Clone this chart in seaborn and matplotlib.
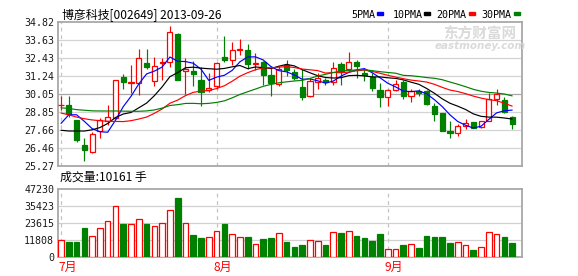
import numpy as np
import pandas as pd
import matplotlib
matplotlib.use("Agg")
import matplotlib.pyplot as plt
import seaborn as sns

# ---------------- data ----------------
open_ = [29.28, 29.34, 28.31, 26.67, 26.16, 27.61, 28.22, 28.45, 31.15, 30.80,
         30.78, 32.11, 30.92, 32.09, 32.16, 34.07, 31.58, 31.55, 31.01, 30.33,
         30.55, 32.52, 32.29, 32.98, 33.00, 32.06, 32.16, 31.29, 30.74, 31.97,
         31.51, 30.51, 29.89, 30.87, 31.01, 30.87, 32.02, 31.74, 32.16, 31.42,
         31.19, 30.33, 29.85, 30.33, 30.83, 29.93, 30.23, 30.23, 29.22, 28.78,
         27.61, 27.47, 27.94, 28.17, 27.84, 28.27, 29.70, 29.66, 28.50]
high = [29.93, 29.93, 28.33, 27.11, 27.52, 28.45, 29.34, 31.00, 31.35, 31.97,
        33.07, 33.02, 32.52, 32.43, 34.57, 34.10, 32.43, 32.27, 31.81, 31.47,
        32.16, 33.93, 33.51, 33.69, 33.37, 32.80, 32.27, 31.93, 31.93, 32.29,
        31.70, 31.70, 31.12, 31.47, 31.12, 32.20, 32.16, 32.83, 32.29, 31.70,
        31.47, 30.78, 30.35, 30.96, 31.01, 30.37, 30.37, 30.33, 29.46, 28.80,
        28.22, 28.03, 28.36, 28.20, 28.27, 30.09, 30.37, 29.82, 28.59]
low = [29.01, 28.53, 26.86, 25.61, 26.12, 27.10, 27.98, 28.35, 30.37, 30.14,
       29.96, 31.74, 30.55, 30.96, 31.81, 31.00, 30.05, 30.55, 29.26, 30.19,
       30.37, 32.20, 31.97, 32.62, 31.74, 31.65, 30.64, 29.89, 30.55, 31.24,
       31.01, 29.66, 29.85, 30.37, 30.64, 30.64, 30.64, 31.56, 31.10, 30.92,
       30.23, 29.18, 29.26, 30.23, 29.70, 29.50, 29.89, 29.34, 28.27, 27.56,
       27.14, 27.23, 27.70, 27.75, 27.80, 28.22, 29.34, 28.78, 27.70]
close = [29.32, 28.69, 27.00, 26.30, 27.38, 28.31, 28.50, 30.99, 30.83, 30.83,
         32.43, 31.83, 31.93, 32.18, 34.17, 31.01, 31.74, 31.37, 30.19, 30.44,
         32.11, 32.34, 33.00, 33.06, 32.06, 32.14, 31.29, 30.78, 31.74, 31.65,
         31.10, 29.85, 30.92, 31.10, 30.87, 31.79, 31.51, 32.16, 31.93, 31.29,
         30.42, 29.85, 30.33, 30.71, 29.89, 30.23, 30.10, 29.38, 28.73, 27.61,
         27.47, 27.89, 28.13, 27.80, 28.22, 29.74, 30.05, 28.83, 28.03]
volume = [11800, 10650, 10650, 20370, 14580, 20140, 25000, 35420, 23380, 23150,
          26390, 23380, 21530, 23840, 32640, 41200, 23840, 15500, 13430, 13890,
          18060, 23380, 15970, 13890, 14120, 9260, 12730, 13430, 16670, 10880,
          7180, 8570, 11810, 11340, 8570, 17590, 17130, 18060, 14820, 13430,
          11340, 16200, 5790, 5790, 8570, 9260, 6480, 14820, 14120, 14120,
          9950, 10650, 8330, 5090, 6950, 17590, 16200, 14120, 10161]
# closes of the 29 sessions before the window (estimated from the MA lines)
prior_close = [29.89, 29.40, 27.50, 28.58, 28.61, 28.50, 30.99, 31.13, 31.13, 32.43,
               31.09, 30.00, 28.50, 28.98, 29.31, 29.30, 31.19, 31.03, 29.63, 30.23,
               29.19, 27.00, 26.30, 26.58, 26.81, 25.80, 27.00, 28.50, 29.80]

price_ticks = [34.82, 33.63, 32.43, 31.24, 30.05, 28.85, 27.66, 26.46, 25.27]
vol_ticks = [0, 11808, 23615, 35423, 47230]
month_labels = ["7月", "8月", "9月"]
month_starts = [0, 20, 42]
ma_periods = [5, 10, 20, 30]
ma_names = ["5PMA", "10PMA", "20PMA", "30PMA"]
ma_colors = ["#0000ff", "#000000", "#ff0000", "#008000"]
title = "博彦科技[002649] 2013-09-26"
vol_title = "成交量:10161 手"

# ---------------- style ----------------
sns.set_style("white")
plt.rcParams["font.family"] = ["Noto Sans CJK SC", "DejaVu Sans"]

W, H = 578, 276
fig = plt.figure(figsize=(W / 100, H / 100), dpi=100)
fig.patch.set_facecolor("white")

def fx(px):
    return px / W

def fy(py):
    return 1 - py / H

L, R = 58.3, 522.3
ax = fig.add_axes([fx(L), fy(165.7), fx(R - L), (165.7 - 22.3) / H])
axv = fig.add_axes([fx(L), fy(257.3), fx(R - L), (257.3 - 189.3) / H])

n = len(close)
idx = np.arange(n)
o = np.array(open_); c = np.array(close); hi = np.array(high); lo = np.array(low)
up = c >= o
RED, GREEN = "#ff0000", "#008000"

# ---------------- candles ----------------
for i in range(n):
    col = RED if up[i] else GREEN
    ax.vlines(i, lo[i], hi[i], color=col, lw=0.85, zorder=2)
body_h = np.maximum(np.abs(c - o), 0.02)
body_b = np.minimum(o, c)
ax.bar(idx[up], body_h[up], bottom=body_b[up], width=0.66,
       facecolor="white", edgecolor=RED, linewidth=0.9, zorder=3)
ax.bar(idx[~up], body_h[~up], bottom=body_b[~up], width=0.66,
       facecolor=GREEN, edgecolor=GREEN, linewidth=0.9, zorder=3)

# ---------------- moving averages ----------------
full = pd.Series(prior_close + close)
for p, col in zip(ma_periods, ma_colors):
    ma = full.rolling(p).mean().iloc[len(prior_close):].to_numpy()
    sns.lineplot(x=idx, y=ma, ax=ax, color=col, lw=0.85, zorder=4)

# ---------------- volume ----------------
vdf = pd.DataFrame({"i": idx, "v": volume, "up": up})
sns.barplot(data=vdf[~vdf.up], x="i", y="v", native_scale=True, width=0.72,
            color=GREEN, saturation=1, edgecolor=GREEN, linewidth=0.9,
            errorbar=None, ax=axv, zorder=3)
sns.barplot(data=vdf[vdf.up], x="i", y="v", native_scale=True, width=0.72,
            color="white", saturation=1, edgecolor=RED, linewidth=0.9,
            errorbar=None, ax=axv, zorder=3)

# ---------------- axes styling ----------------
xlim = (-0.35, 59.3)
for a in (ax, axv):
    a.set_xlim(*xlim)
    a.set_xlabel(""); a.set_ylabel("")
    a.set_xticks([])
    for s in a.spines.values():
        s.set_color("#a8a8a8"); s.set_linewidth(1.3)
    for m in month_starts:
        a.axvline(m, color="#c4c4c4", lw=0.9, ls=(0, (3, 3)), zorder=1)
    a.tick_params(axis="y", length=0, pad=3, labelsize=7.2, labelcolor="#1a1a1a")

ax.set_ylim(price_ticks[-1], price_ticks[0])
ax.set_yticks(price_ticks)
ax.set_yticklabels([f"{t:.2f}" for t in price_ticks], family="DejaVu Sans Mono")
for t in price_ticks[1:-1]:
    ax.axhline(t, color="#a8a8a8" if t == 30.05 else "#d4d4d4", lw=0.9, zorder=1)

axv.set_ylim(0, vol_ticks[-1])
axv.set_yticks(vol_ticks)
axv.set_yticklabels([str(t) for t in vol_ticks], family="DejaVu Sans Mono")
for t in vol_ticks[1:-1]:
    axv.axhline(t, color="#d0d0d0", lw=0.9, zorder=1)

# ---------------- texts ----------------
fig.text(fx(62), fy(15), title, fontsize=8.6, va="center", ha="left", color="#000")
fig.text(fx(60), fy(177), vol_title, fontsize=8.6, va="center", ha="left", color="#000")

leg_x = [351.7, 392.3, 436.7, 481.7]
mk_x = [377, 424, 469, 514]
for name, lx, mx, col in zip(ma_names, leg_x, mk_x, ma_colors):
    fig.text(fx(lx), fy(14.5), name, fontsize=7.2, family="DejaVu Sans Mono",
             va="center", ha="left", color="#000")
    fig.patches.append(plt.Rectangle((fx(mx), fy(15.3)), fx(6), 3 / H,
                                     transform=fig.transFigure, color=col))

for lab, m in zip(month_labels, month_starts):
    xpix = L + (m - xlim[0]) / (xlim[1] - xlim[0]) * (R - L)
    fig.text(fx(xpix - 3), fy(267), lab, fontsize=8.6, color=RED,
             va="center", ha="left")

# watermark
fig.text(fx(480), fy(34), "东方财富网", fontsize=10.5, fontweight="bold",
         color="#dadada", ha="center", va="center", zorder=0)
fig.text(fx(480), fy(46), "eastmoney.com", fontsize=7.5, fontweight="bold",
         style="italic", color="#dadada", ha="center", va="center", zorder=0,
         family="DejaVu Sans")

fig.savefig("out.png", dpi=100, facecolor="white")
